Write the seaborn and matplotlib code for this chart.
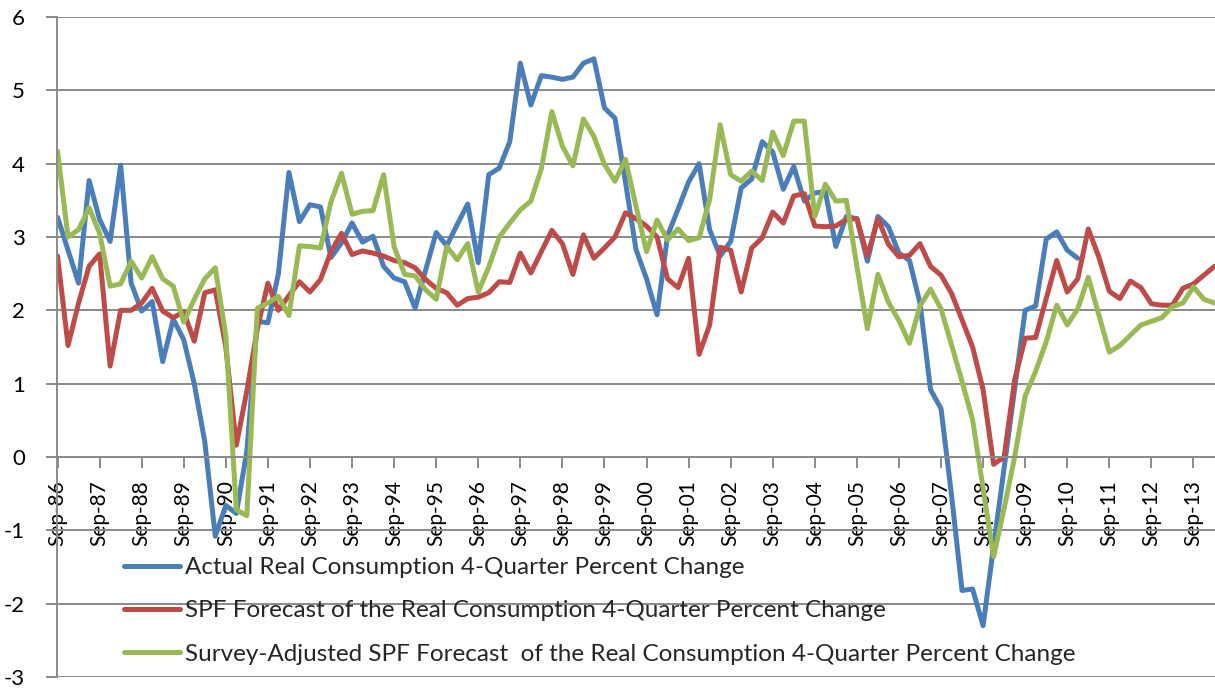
import numpy as np
import pandas as pd
import matplotlib
matplotlib.use("Agg")
import matplotlib.pyplot as plt
import seaborn as sns

# ------------------------------------------------------------------------------ #
# Data (quarterly, Sep-86 onwards)
# ------------------------------------------------------------------------------ #
actual = [
    3.27, 2.82, 2.37, 3.77, 3.24, 2.94, 3.98, 2.37, 1.99, 2.12,
    1.30, 1.88, 1.60, 1.00, 0.21, -1.08, -0.66, -0.77, 0.08, 1.85,
    1.83, 2.50, 3.88, 3.21, 3.44, 3.41, 2.72, 2.92, 3.19, 2.93,
    3.01, 2.60, 2.44, 2.39, 2.03, 2.55, 3.06, 2.88, 3.17, 3.45,
    2.65, 3.85, 3.94, 4.30, 5.37, 4.80, 5.20, 5.18, 5.15, 5.18,
    5.37, 5.43, 4.76, 4.62, 3.75, 2.83, 2.43, 1.94, 3.02, 3.38,
    3.75, 4.00, 3.10, 2.74, 2.94, 3.67, 3.79, 4.30, 4.16, 3.65,
    3.96, 3.49, 3.60, 3.62, 2.87, 3.28, 3.25, 2.67, 3.28, 3.14,
    2.78, 2.68, 2.10, 0.92, 0.66, -0.52, -1.82, -1.80, -2.30, -1.22,
    -0.15, 0.93, 2.00, 2.06, 2.97, 3.07, 2.82, 2.71,
]
spf = [
    2.74, 1.52, 2.10, 2.60, 2.77, 1.24, 2.00, 2.00, 2.10, 2.30,
    1.99, 1.90, 1.98, 1.58, 2.24, 2.28, 1.50, 0.16, 0.90, 1.75,
    2.37, 2.00, 2.20, 2.39, 2.25, 2.42, 2.80, 3.05, 2.76, 2.81,
    2.78, 2.74, 2.68, 2.65, 2.58, 2.42, 2.30, 2.24, 2.07, 2.16,
    2.18, 2.24, 2.39, 2.38, 2.78, 2.51, 2.80, 3.09, 2.91, 2.49,
    3.03, 2.71, 2.85, 3.00, 3.33, 3.25, 3.15, 3.00, 2.43, 2.31,
    2.71, 1.40, 1.80, 2.86, 2.82, 2.25, 2.85, 2.99, 3.34, 3.19,
    3.56, 3.59, 3.15, 3.14, 3.15, 3.24, 3.25, 2.74, 3.25, 2.90,
    2.73, 2.75, 2.91, 2.60, 2.48, 2.23, 1.87, 1.50, 0.92, -0.10,
    0.00, 1.05, 1.62, 1.63, 2.16, 2.68, 2.25, 2.43, 3.11, 2.73,
    2.26, 2.16, 2.40, 2.31, 2.09, 2.07, 2.07, 2.30, 2.36, 2.48,
    2.60,
]
adjusted = [
    4.17, 3.00, 3.10, 3.40, 3.05, 2.33, 2.36, 2.67, 2.44, 2.73,
    2.43, 2.33, 1.84, 2.15, 2.43, 2.58, 1.65, -0.72, -0.80, 2.03,
    2.10, 2.19, 1.93, 2.88, 2.87, 2.85, 3.48, 3.87, 3.31, 3.35,
    3.36, 3.85, 2.87, 2.49, 2.47, 2.28, 2.15, 2.87, 2.69, 2.91,
    2.25, 2.59, 3.00, 3.19, 3.37, 3.49, 3.93, 4.71, 4.24, 3.97,
    4.61, 4.37, 3.99, 3.76, 4.06, 3.42, 2.80, 3.23, 2.96, 3.11,
    2.95, 2.99, 3.51, 4.53, 3.85, 3.76, 3.90, 3.77, 4.43, 4.11,
    4.58, 4.58, 3.28, 3.72, 3.49, 3.50, 2.60, 1.75, 2.49, 2.11,
    1.86, 1.55, 2.06, 2.29, 2.02, 1.53, 1.03, 0.51, -0.43, -1.36,
    -0.70, 0.00, 0.83, 1.17, 1.57, 2.07, 1.80, 2.02, 2.45, 1.94,
    1.43, 1.52, 1.66, 1.80, 1.85, 1.90, 2.05, 2.10, 2.32, 2.15,
    2.10,
]

series_names = [
    "Actual Real Consumption 4-Quarter Percent Change",
    "SPF Forecast of the Real Consumption 4-Quarter Percent Change",
    "Survey-Adjusted SPF Forecast  of the Real Consumption 4-Quarter Percent Change",
]
label_years = list(range(86, 100)) + list(range(0, 14))
tick_labels = [f"Sep-{y:02d}" for y in label_years]
y_ticks = list(range(-3, 7))

colors = ["#4A7EBB", "#BE4B48", "#98B954"]
grid_color = "#8a8a8a"

# long-form table for seaborn
frames = []
for name, vals in zip(series_names, [actual, spf, adjusted]):
    frames.append(pd.DataFrame({"quarter": np.arange(len(vals)), "value": vals, "series": name}))
df = pd.concat(frames, ignore_index=True)

# ------------------------------------------------------------------------------ #
# Figure
# ------------------------------------------------------------------------------ #
sns.set_style("white")
plt.rcParams["font.family"] = ["Lato", "DejaVu Sans"]

fig = plt.figure(figsize=(12.15, 6.89), dpi=100)
ax = fig.add_axes([57 / 1215, 12 / 689, 1 - 57 / 1215, 660 / 689])

sns.lineplot(
    data=df, x="quarter", y="value", hue="series", hue_order=series_names,
    palette=colors, linewidth=3.6, ax=ax, legend=False,
)

ax.set_xlim(-0.05, 110.05)
ax.set_ylim(-3, 6)
ax.set_yticks(y_ticks)
ax.set_yticklabels([str(v) for v in y_ticks])
ax.set_xticks(np.arange(0, 4 * len(tick_labels), 4))
ax.set_xticklabels(tick_labels)
ax.set_xlabel("")
ax.set_ylabel("")

ax.grid(axis="y", color=grid_color, linewidth=1.4)
ax.set_axisbelow(True)
for s in ["top", "right"]:
    ax.spines[s].set_visible(False)
ax.spines["left"].set_color(grid_color)
ax.spines["left"].set_linewidth(1.4)
ax.spines["bottom"].set_position(("data", 0))
ax.spines["bottom"].set_color(grid_color)
ax.spines["bottom"].set_linewidth(1.4)
ax.tick_params(axis="x", direction="out", length=8, width=1.4, color=grid_color,
               pad=9, bottom=True, labelrotation=90, labelsize=15, labelcolor="black")
ax.tick_params(axis="y", direction="out", length=8, width=1.4, color=grid_color,
               pad=15, left=True, labelsize=16, labelcolor="black")
for lbl in ax.get_xticklabels():
    lbl.set_horizontalalignment("center")
    lbl.set_verticalalignment("top")

handles = [plt.Line2D([], [], color=c, linewidth=3.6) for c in colors]
ax.legend(
    handles, series_names, loc="upper left", bbox_to_anchor=(124 / 1215, 1 - 557 / 689),
    bbox_transform=fig.transFigure, frameon=False, fontsize=17.5, borderpad=0,
    borderaxespad=0, handlelength=2.3, handletextpad=0.2, labelspacing=0.92,
)

fig.savefig("out.png", dpi=100)
